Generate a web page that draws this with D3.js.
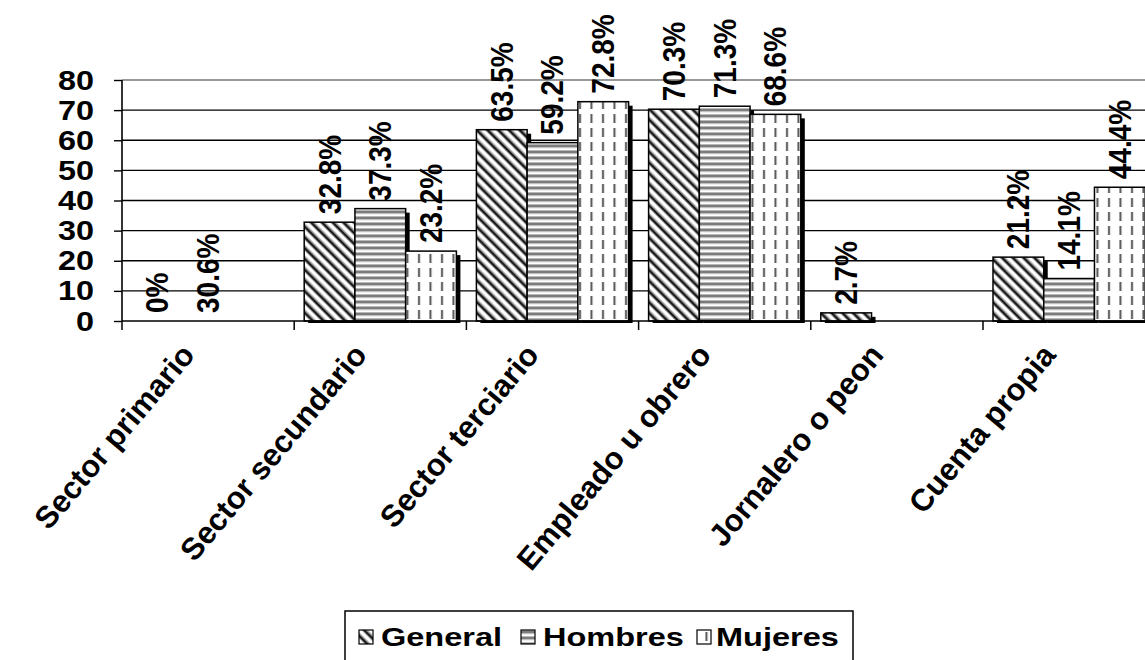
<!DOCTYPE html>
<html><head><meta charset="utf-8">
<script src="https://cdn.jsdelivr.net/npm/d3@7"></script>
<style>
body{margin:0;background:#fff}
svg{display:block}
text{font-family:"Liberation Sans",Arial,sans-serif;font-weight:bold;fill:#000}
</style>
</head><body>
<svg id="chart" width="1145" height="660"></svg>
<script>
// ---- data ----
const categories = ["Sector primario","Sector secundario","Sector terciario","Empleado u obrero","Jornalero o peon","Cuenta propia"];
const seriesNames = ["General","Hombres","Mujeres"];
const generalValues = [0, 32.8, 63.5, 70.3, 2.7, 21.2];
const hombresValues = [null, 37.3, 59.2, 71.3, null, 14.1];
const mujeresValues = [null, 23.2, 72.8, 68.6, null, 44.4];
const generalLabels = ["0%","32.8%","63.5%","70.3%","2.7%","21.2%"];
const hombresLabels = ["30.6%","37.3%","59.2%","71.3%",null,"14.1%"];
const mujeresLabels = [null,"23.2%","72.8%","68.6%",null,"44.4%"];
const yTicks = [0,10,20,30,40,50,60,70,80];

const seriesValues = [generalValues, hombresValues, mujeresValues];
const seriesLabels = [generalLabels, hombresLabels, mujeresLabels];
const patternIds = ["pGeneral","pHombres","pMujeres"];

const svg = d3.select("#chart");
const plotLeft = 122, bandW = 172.2, plotBase = 321, plotTop = 80;

const x = d3.scaleBand().domain(categories).range([plotLeft, plotLeft + bandW*categories.length]).padding(0);
const xs = d3.scaleBand().domain(seriesNames).range([10, x.bandwidth()-10]).padding(0);
const y = d3.scaleLinear().domain([0,80]).range([plotBase, plotTop]);

// ---- patterns ----
const defs = svg.append("defs");
const pg = defs.append("pattern").attr("id","pGeneral").attr("patternUnits","userSpaceOnUse")
  .attr("width",7.6).attr("height",20).attr("patternTransform","rotate(-45)");
pg.append("rect").attr("width",7.6).attr("height",20).attr("fill","#fff");
pg.append("rect").attr("x",0).attr("width",1).attr("height",20).attr("fill","#999");
pg.append("rect").attr("x",1).attr("width",2.4).attr("height",20).attr("fill","#151515");
pg.append("rect").attr("x",3.4).attr("width",1).attr("height",20).attr("fill","#999");
const ph = defs.append("pattern").attr("id","pHombres").attr("patternUnits","userSpaceOnUse")
  .attr("width",10).attr("height",6);
ph.append("rect").attr("width",10).attr("height",6).attr("fill","#fff");
ph.append("rect").attr("y",0).attr("width",10).attr("height",1).attr("fill","#b8b8b8");
ph.append("rect").attr("y",1).attr("width",10).attr("height",2.2).attr("fill","#7c7c7c");
ph.append("rect").attr("y",3.2).attr("width",10).attr("height",1).attr("fill","#b8b8b8");
const pm = defs.append("pattern").attr("id","pMujeres").attr("patternUnits","userSpaceOnUse")
  .attr("width",11.5).attr("height",14);
pm.append("rect").attr("width",11.5).attr("height",14).attr("fill","#fff");
pm.append("rect").attr("x",4).attr("y",2).attr("width",2).attr("height",9).attr("fill","#555");

// ---- gridlines & axes ----
svg.append("g").selectAll("line").data(yTicks.filter(d => d > 0)).join("line")
  .attr("x1", plotLeft).attr("x2", 1145)
  .attr("y1", d => y(d)).attr("y2", d => y(d))
  .attr("stroke", d => d === 80 ? "#999" : "#000")
  .attr("stroke-width", d => d === 80 ? 2 : 1.4);

const yAxis = d3.axisLeft(y).tickValues(yTicks).tickSize(8).tickFormat("");
const ya = svg.append("g").attr("transform",`translate(${plotLeft},0)`).call(yAxis);
ya.select(".domain").attr("stroke","#000").attr("stroke-width",1.6).attr("d",`M0,${y(80)}V${plotBase}`);
ya.selectAll(".tick line").attr("stroke","#000").attr("stroke-width",1.4);

svg.append("g").selectAll("text").data(yTicks).join("text")
  .attr("transform", d => `translate(94,${y(d)}) scale(1.2,1)`)
  .attr("text-anchor","end").attr("dominant-baseline","central")
  .attr("font-size",27).text(d => d);

// ---- bars ----
const barData = [];
seriesNames.forEach((s,si) => categories.forEach((c,ci) => {
  barData.push({s, si, c, v: seriesValues[si][ci], label: seriesLabels[si][ci]});
}));
const drawn = barData.filter(d => d.v != null && d.v > 0);

svg.append("g").selectAll("rect").data(drawn).join("rect")
  .attr("x", d => x(d.c) + xs(d.s) + 4)
  .attr("y", d => y(d.v) + 4)
  .attr("width", xs.bandwidth())
  .attr("height", d => plotBase - y(d.v) - 2)
  .attr("fill","#000");

svg.append("g").selectAll("rect").data(drawn).join("rect")
  .attr("x", d => x(d.c) + xs(d.s))
  .attr("y", d => y(d.v))
  .attr("width", xs.bandwidth())
  .attr("height", d => plotBase - y(d.v))
  .attr("fill", d => `url(#${patternIds[d.si]})`)
  .attr("stroke","#000").attr("stroke-width",1.5);

const xAxis = d3.axisBottom(x).tickSize(0).tickFormat("");
const xa = svg.append("g").attr("transform",`translate(0,${plotBase})`).call(xAxis);
xa.select(".domain").attr("stroke","#000").attr("stroke-width",1.6).attr("d",`M${plotLeft},0H1145`);
svg.append("g").selectAll("line").data(categories).join("line")
  .attr("x1", d => x(d)).attr("x2", d => x(d))
  .attr("y1", plotBase).attr("y2", plotBase + 9)
  .attr("stroke","#000").attr("stroke-width",1.5);

svg.append("g").selectAll("text").data(categories).join("text")
  .attr("transform", d => `translate(${x(d) + x.bandwidth()/2 - 20},${plotBase + 28}) rotate(-50)`)
  .attr("text-anchor","end").attr("dominant-baseline","central")
  .attr("font-size",31).text(d => d);

svg.append("g").selectAll("text").data(barData.filter(d => d.label != null)).join("text")
  .attr("transform", d => `translate(${x(d.c) + xs(d.s) + xs.bandwidth()/2},${y(d.v || 0) - 8}) rotate(-90) scale(1,1.1)`)
  .attr("text-anchor","start").attr("dominant-baseline","central")
  .attr("font-size",28).text(d => d.label);

// ---- legend ----
const lg = svg.append("g");
lg.append("rect").attr("x",345).attr("y",611).attr("width",508).attr("height",70)
  .attr("fill","#fff").attr("stroke","#000").attr("stroke-width",1.5);
const legendKeyX = [359, 521, 697];
const legendTextX = [381, 543, 716];
seriesNames.forEach((s,i) => {
  lg.append("rect").attr("x",legendKeyX[i]).attr("y",630).attr("width",14).attr("height",14)
    .attr("fill",`url(#${patternIds[i]})`).attr("stroke","#000").attr("stroke-width",1.2);
  lg.append("text").attr("transform",`translate(${legendTextX[i]},646) scale(1.3,1)`)
    .attr("font-size",25).text(s);
});
</script>
</body></html>
